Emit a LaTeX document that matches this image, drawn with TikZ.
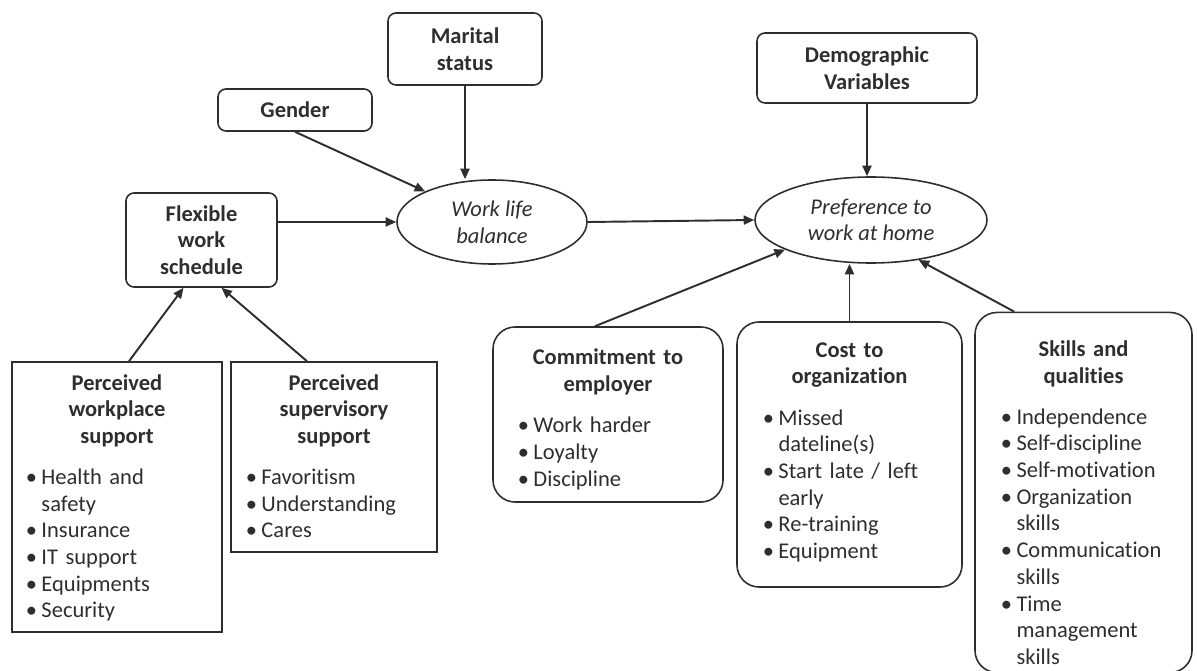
\documentclass[tikz,border=0pt]{standalone}
\usepackage{fontspec}
\setmainfont{Carlito}[Ligatures=NoCommon]
\usetikzlibrary{arrows.meta, shapes.geometric}
\definecolor{ink}{HTML}{2E2E2E}
\newcommand{\bul}{\makebox[2.2mm]{\textbullet}}

\begin{document}
\begin{tikzpicture}[x=0.2mm, y=-0.2mm, >={Triangle[length=2.1mm, width=1.8mm]},
  every node/.style={font=\fontsize{12.8}{15.2}\selectfont, text=ink},
  smallbox/.style={draw=ink, line width=0.9pt, rounded corners=1.6mm, align=center,
    font=\fontsize{12.8}{15.2}\selectfont\bfseries},
  oval/.style={draw=ink, ellipse, line width=0.9pt, align=center, inner sep=0pt,
    font=\fontsize{12.8}{15.2}\selectfont\itshape},
  listbox/.style={draw=ink, line width=0.9pt, inner xsep=0pt, inner ysep=0pt},
  roundlist/.style={listbox, rounded corners=4.4mm},
  link/.style={->, draw=ink, line width=1.1pt}]
  \useasboundingbox (0,0) rectangle (1197,671);

  % upper boxes and the two ovals
  \node[smallbox, minimum width=30.8mm, minimum height=14.4mm] (mar) at (465,49) {Marital\\status};
  \node[smallbox, minimum width=30.8mm, minimum height=8.4mm] (gen) at (295,110) {Gender};
  \node[smallbox, minimum width=44mm, minimum height=14mm] (dem) at (867,68) {Demographic\\Variables};
  \node[smallbox, minimum width=30.2mm, minimum height=18.8mm] (flex) at (201.5,240) {Flexible\\work\\schedule};
  \node[oval, minimum width=38mm, minimum height=16.8mm] (wlb) at (492,222) {Work life\\balance};
  \node[oval, minimum width=46.4mm, minimum height=17.2mm] (pref) at (871,220) {Preference to\\work at home};

  % support boxes
  \node[listbox, text width=42mm, minimum height=54mm] (wps) at (117,497) {%
    {\centering\bfseries\rule{0pt}{4.4mm}Perceived\\workplace\\support\par}\vspace{3.4mm}
    \noindent\hspace*{2.8mm}\begin{tabular}{@{}l@{\hspace{0.9mm}}l@{}}
      \bul & Health and\\ & safety\\ \bul & Insurance\\ \bul & IT support\\
      \bul & Equipments\\ \bul & Security
    \end{tabular}};
  \node[listbox, text width=41.2mm, minimum height=38mm] (sps) at (334,457) {%
    {\centering\bfseries\rule{0pt}{4.4mm}Perceived\\supervisory\\support\par}\vspace{3.4mm}
    \noindent\hspace*{3mm}\begin{tabular}{@{}l@{\hspace{0.9mm}}l@{}}
      \bul & Favoritism\\ \bul & Understanding\\ \bul & Cares
    \end{tabular}};

  % factors of working at home
  \node[roundlist, text width=46mm, minimum height=35mm] (com) at (608,414.5) {%
    {\centering\bfseries\rule{0pt}{6mm}Commitment to\\employer\par}\vspace{3.4mm}
    \noindent\hspace*{5mm}\begin{tabular}{@{}l@{\hspace{0.9mm}}l@{}}
      \bul & Work harder\\ \bul & Loyalty\\ \bul & Discipline
    \end{tabular}};
  \node[roundlist, text width=45mm, minimum height=53mm] (cost) at (849.5,454.5) {%
    {\centering\bfseries Cost to\\organization\par}\vspace{3.4mm}
    \noindent\hspace*{5.2mm}\begin{tabular}{@{}l@{\hspace{0.9mm}}l@{}}
      \bul & Missed\\ & dateline(s)\\ \bul & Start late / left\\ & early\\
      \bul & Re-training\\ \bul & Equipment
    \end{tabular}};
  \node[roundlist, text width=43.4mm, minimum height=70.6mm] (skl) at (1083.5,492.5) {%
    {\centering\bfseries\rule{0pt}{8.8mm}Skills and\\qualities\par}\vspace{3.4mm}
    \noindent\hspace*{5.2mm}\begin{tabular}{@{}l@{\hspace{0.9mm}}l@{}}
      \bul & Independence\\ \bul & Self-discipline\\ \bul & Self-motivation\\
      \bul & Organization\\ & skills\\ \bul & Communication\\ & skills\\
      \bul & Time\\ & management\\ & skills
    \end{tabular}};

  % arrows
  \draw[link] (mar.south) -- (mar.south |- wlb.north);
  \draw[link] (gen.south) -- (wlb);
  \draw[link] (flex.east |- wlb.west) -- (wlb.west);
  \draw[link] ([xshift=2.4mm]wps.north) -- ([xshift=-3.6mm]flex.south);
  \draw[link] ([xshift=-5.4mm]sps.north) -- ([xshift=4mm]flex.south);
  \draw[link] (dem.south) -- (dem.south |- pref.north);
  \draw[link] (wlb.east) -- (pref.west);
  \draw[link] ([xshift=-2.6mm]com.north) -- (pref.199);
  \draw[link] (cost.north) -- (cost.north |- pref.south);
  \draw[link] ([xshift=8mm]skl.north west) -- (pref.320);
\end{tikzpicture}
\end{document}
